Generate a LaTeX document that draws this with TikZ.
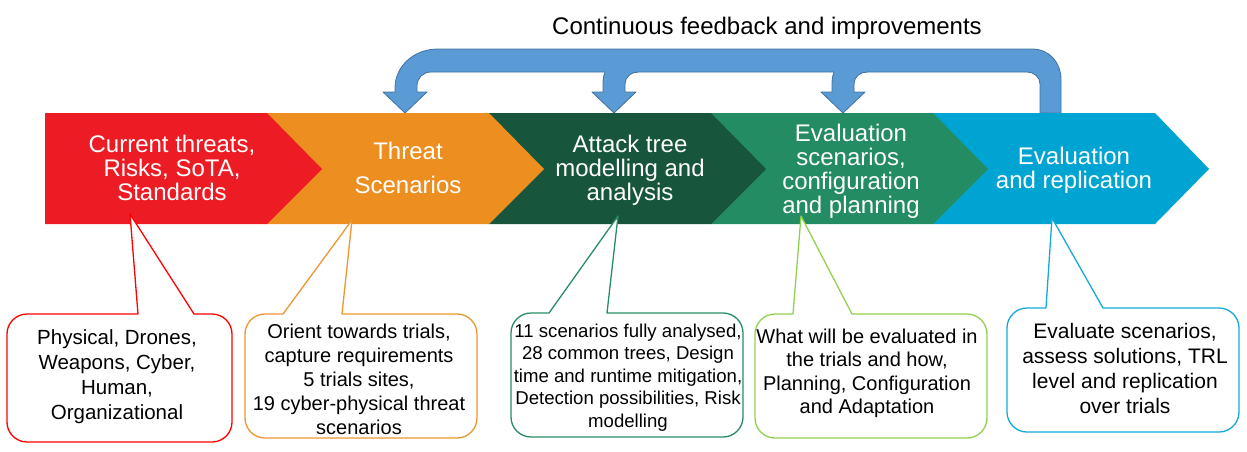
\documentclass[tikz,border=0pt]{standalone}
\usepackage{fontspec}
\setmainfont{Liberation Sans}
\definecolor{cred}{RGB}{237,28,36}
\definecolor{corange}{RGB}{236,142,32}
\definecolor{cdgreen}{RGB}{23,86,60}
\definecolor{cmgreen}{RGB}{36,140,98}
\definecolor{cblue}{RGB}{0,164,211}
\definecolor{clgreen}{RGB}{146,208,80}
\definecolor{fbfill}{RGB}{91,155,213}
\definecolor{fbline}{RGB}{65,113,156}
\definecolor{lred}{RGB}{255,0,0}
\definecolor{lorange}{RGB}{237,150,50}
\definecolor{lgreen}{RGB}{40,140,100}
\definecolor{lblue}{RGB}{20,170,215}
\tikzset{
  chevtext/.style={text=white, align=center, anchor=base, inner sep=0pt, font=\fontsize{24}{24}\selectfont},
  calltext/.style={text=black, align=center, anchor=base, inner sep=0pt},
  callout/.style={fill=white, line width=1.3pt, line join=round},
  fbarrow/.style={fill=fbfill, draw=fbline, line width=0.8pt, line join=round},
}
\begin{document}
\begin{tikzpicture}[x=1pt,y=-1pt]
\useasboundingbox (0,0) rectangle (1247,451);
% title
\node[anchor=base, inner sep=0pt, font=\fontsize{24}{24}\selectfont] (title) at (767,34) {Continuous feedback and improvements};
% feedback arrow
\draw[fbarrow] (1061,113) -- (1061,80) .. controls (1061,62) and (1049,49) .. (1032,49) -- (438,49)
  .. controls (414,49) and (395,66) .. (395,88) -- (395,92) -- (383,92) -- (405,113) -- (427,92) -- (417,92) -- (417,86)
  .. controls (417,78) and (423,72) .. (431,72) -- (1027,72) .. controls (1034,72) and (1040,77) .. (1040,84) -- (1040,113) -- cycle;
\foreach \c in {614,843}{
  \fill[fbfill] (\c-9,70) -- (\c-9,72) .. controls (\c-11,78) .. (\c-11,92) -- (\c-22,92) -- (\c,113) -- (\c+22,92) -- (\c+11,92) -- (\c+11,84)
    .. controls (\c+11,77) and (\c+17,72) .. (\c+24,72) -- (\c+24,70) -- cycle;
  \draw[fbline, line width=0.8pt, line join=round] (\c-9,72) .. controls (\c-11,78) .. (\c-11,92) -- (\c-22,92) -- (\c,113) -- (\c+22,92) -- (\c+11,92) -- (\c+11,84)
    .. controls (\c+11,77) and (\c+17,72) .. (\c+24,72);
}
% chevrons (right to left so the tips overlap)
\fill[cblue] (933,113) -- (1155,113) -- (1209,169) -- (1155,224) -- (933,224) -- cycle;
\fill[cmgreen] (711,113) -- (933,113) -- (988,169) -- (933,224) -- (711,224) -- cycle;
\fill[cdgreen] (489,113) -- (711,113) -- (766,169) -- (711,224) -- (489,224) -- cycle;
\fill[corange] (267,113) -- (489,113) -- (544,169) -- (489,224) -- (267,224) -- cycle;
\fill[cred] (45,113) -- (267,113) -- (322,169) -- (267,224) -- (45,224) -- cycle;
\node[chevtext] (c1) at (172,200) {Current threats,\\Risks, SoTA,\\Standards};
\node[chevtext, font=\fontsize{24}{34}\selectfont] (c2) at (408,193) {Threat\\Scenarios};
\node[chevtext] (c3) at (630,200) {Attack tree\\modelling and\\analysis};
\node[chevtext] (c4) at (851,213) {Evaluation\\scenarios,\\configuration\\and planning};
\node[chevtext] (c5) at (1074,188) {Evaluation\\and replication};
% callouts
\draw[callout, draw=lred] (7,378) [rounded corners=20] -- (7,314) [sharp corners] -- (138,314) -- (130,214) -- (194,314) [rounded corners=20] -- (232,314) -- (232,442) -- (7,442) -- cycle;
\draw[callout, draw=lorange] (245,376) [rounded corners=20] -- (245,314) [sharp corners] -- (283,314) -- (352,220) -- (342,314) [rounded corners=20] -- (477,314) -- (477,438) -- (245,438) -- cycle;
\draw[callout, draw=lgreen] (511,375) [rounded corners=20] -- (511,313) [sharp corners] -- (549,313) -- (618,216) -- (607,313) [rounded corners=20] -- (743,313) -- (743,437) -- (511,437) -- cycle;
\draw[callout, draw=clgreen] (755,376) [rounded corners=20] -- (755,314) [sharp corners] -- (793,314) -- (801,216) -- (852,314) [rounded corners=20] -- (987,314) -- (987,438) -- (755,438) -- cycle;
\draw[callout, draw=lblue] (1007,370) [rounded corners=20] -- (1007,308) [sharp corners] -- (1046,308) -- (1052,218) -- (1103,308) [rounded corners=20] -- (1239,308) -- (1239,432) -- (1007,432) -- cycle;
\node[calltext, font=\fontsize{20.5}{25}\selectfont] (t1) at (117,419) {Physical, Drones,\\Weapons, Cyber,\\Human,\\Organizational};
\node[calltext, font=\fontsize{20}{24}\selectfont] (t2) at (359,434) {Orient towards trials,\\capture requirements\\5 trials sites,\\19 cyber-physical threat\\scenarios};
\node[calltext, font=\fontsize{18.6}{22.5}\selectfont] (t3) at (628,427) {11 scenarios fully analysed,\\28 common trees, Design\\time and runtime mitigation,\\Detection possibilities, Risk\\modelling};
\node[calltext, font=\fontsize{20}{23.5}\selectfont] (t4) at (867,413.5) {What will be evaluated in\\the trials and how,\\Planning, Configuration\\and Adaptation};
\node[calltext, font=\fontsize{21}{25}\selectfont] (t5) at (1125,413) {Evaluate scenarios,\\assess solutions, TRL\\level and replication\\over trials};
\end{tikzpicture}
\end{document}
